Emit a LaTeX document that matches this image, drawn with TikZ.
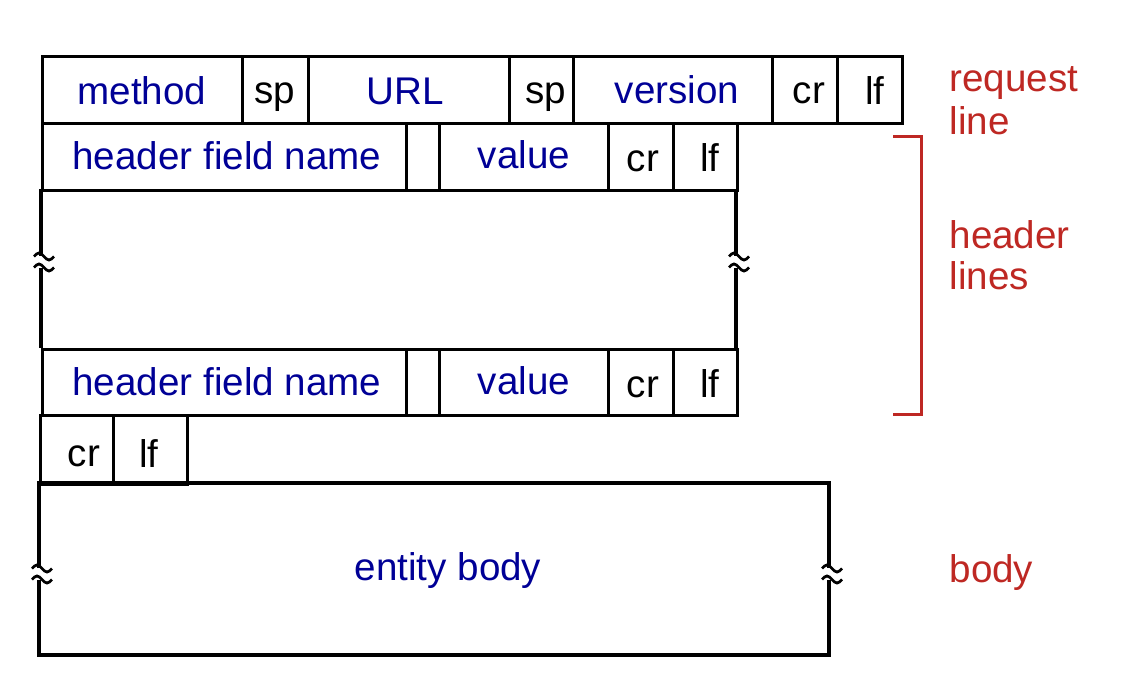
\documentclass[tikz,border=0pt]{standalone}
\usepackage{fontspec}
\setmainfont{Liberation Sans}
\definecolor{navy}{RGB}{0,0,150}
\definecolor{labred}{RGB}{190,40,35}
\begin{document}
\begin{tikzpicture}[x=1pt,y=-1pt,line width=3.2pt,
  cell/.style={draw,rectangle,inner sep=0pt,anchor=north west},
  txt/.style={anchor=base,inner sep=0pt,font=\fontsize{38.6}{44}\selectfont},
  fld/.style={txt,text=navy},
  ctl/.style={txt,text=black},
  lbl/.style={anchor=base west,inner sep=0pt,text=labred,font=\fontsize{38.6}{44}\selectfont},
  brk/.pic={
    \draw[line width=2.8pt] (-10,-5.5) sin (-5,-9) cos (0,-5.5) sin (5,-2) cos (10,-5.5);
    \draw[line width=2.8pt] (-10,5.5) sin (-5,2) cos (0,5.5) sin (5,9) cos (10,5.5);
  }]
\useasboundingbox (0,0) rectangle (1144,698);

% request line
\node[cell,minimum width=200pt,minimum height=67pt] (m)   at (41,55)  {};
\node[cell,minimum width=66pt, minimum height=67pt] (sp1) at (241,55) {};
\node[cell,minimum width=201pt,minimum height=67pt] (url) at (307,55) {};
\node[cell,minimum width=64pt, minimum height=67pt] (sp2) at (508,55) {};
\node[cell,minimum width=199pt,minimum height=67pt] (ver) at (572,55) {};
\node[cell,minimum width=65pt, minimum height=67pt] (cr0) at (771,55) {};
\node[cell,minimum width=65pt, minimum height=67pt] (lf0) at (836,55) {};
\node[fld] (tm)   at (142,105) {method};
\node[ctl] (ts1)  at (275,104) {sp};
\node[fld] (turl) at (405,105) {URL};
\node[ctl] (ts2)  at (546,104) {sp};
\node[fld] (tver) at (677,104) {version};
\node[ctl] (tcr0) at (809,104) {cr};
\node[ctl] (tlf0) at (875,105) {lf};

% header line 1
\node[cell,minimum width=364pt,minimum height=67pt] (hn1) at (41,122)  {};
\node[cell,minimum width=33pt, minimum height=67pt] (g1)  at (405,122) {};
\node[cell,minimum width=169pt,minimum height=67pt] (v1)  at (438,122) {};
\node[cell,minimum width=65pt, minimum height=67pt] (cr1) at (607,122) {};
\node[cell,minimum width=64pt, minimum height=67pt] (lf1) at (672,122) {};
\node[fld] (thn1) at (227,170) {header field name};
\node[fld] (tv1)  at (524,169) {value};
\node[ctl] (tcr1) at (643,172) {cr};
\node[ctl] (tlf1) at (710,172) {lf};

% middle (elided header lines)
\draw (41,189) -- (41,256);
\pic at (44,262) {brk};
\draw (41,268) -- (41,348);
\draw (736,189) -- (736,256);
\pic at (739,262) {brk};
\draw (736,268) -- (736,348);

% header line 2
\node[cell,minimum width=364pt,minimum height=66pt] (hn2) at (41,348)  {};
\node[cell,minimum width=33pt, minimum height=66pt] (g2)  at (405,348) {};
\node[cell,minimum width=169pt,minimum height=66pt] (v2)  at (438,348) {};
\node[cell,minimum width=65pt, minimum height=66pt] (cr2) at (607,348) {};
\node[cell,minimum width=64pt, minimum height=66pt] (lf2) at (672,348) {};
\node[fld] (thn2) at (227,395) {header field name};
\node[fld] (tv2)  at (524,394) {value};
\node[ctl] (tcr2) at (643,397) {cr};
\node[ctl] (tlf2) at (710,397) {lf};

% blank line cr lf
\node[cell,minimum width=73pt,minimum height=69pt] (cr3) at (39,414)  {};
\node[cell,minimum width=74pt,minimum height=69pt] (lf3) at (112,414) {};
\node[ctl] (tcr3) at (84,466)  {cr};
\node[ctl] (tlf3) at (149,467) {lf};

% entity body
\draw (39,568) -- (39,483) -- (829,483) -- (829,568);
\pic at (42,574) {brk};
\pic at (832,574) {brk};
\draw (39,580) -- (39,655) -- (829,655) -- (829,580);
\node[fld] (tbody) at (448,580) {entity body};

% bracket and labels
\draw[labred,line width=3pt] (893,137) -- (921,137) -- (921,414) -- (893,414);
\node[lbl] (lreq1) at (948,92)  {request};
\node[lbl] (lreq2) at (948,135) {line};
\node[lbl] (lhdr1) at (948,248) {header};
\node[lbl] (lhdr2) at (948,289) {lines};
\node[lbl] (lbody) at (948,582) {body};
\end{tikzpicture}
\end{document}
